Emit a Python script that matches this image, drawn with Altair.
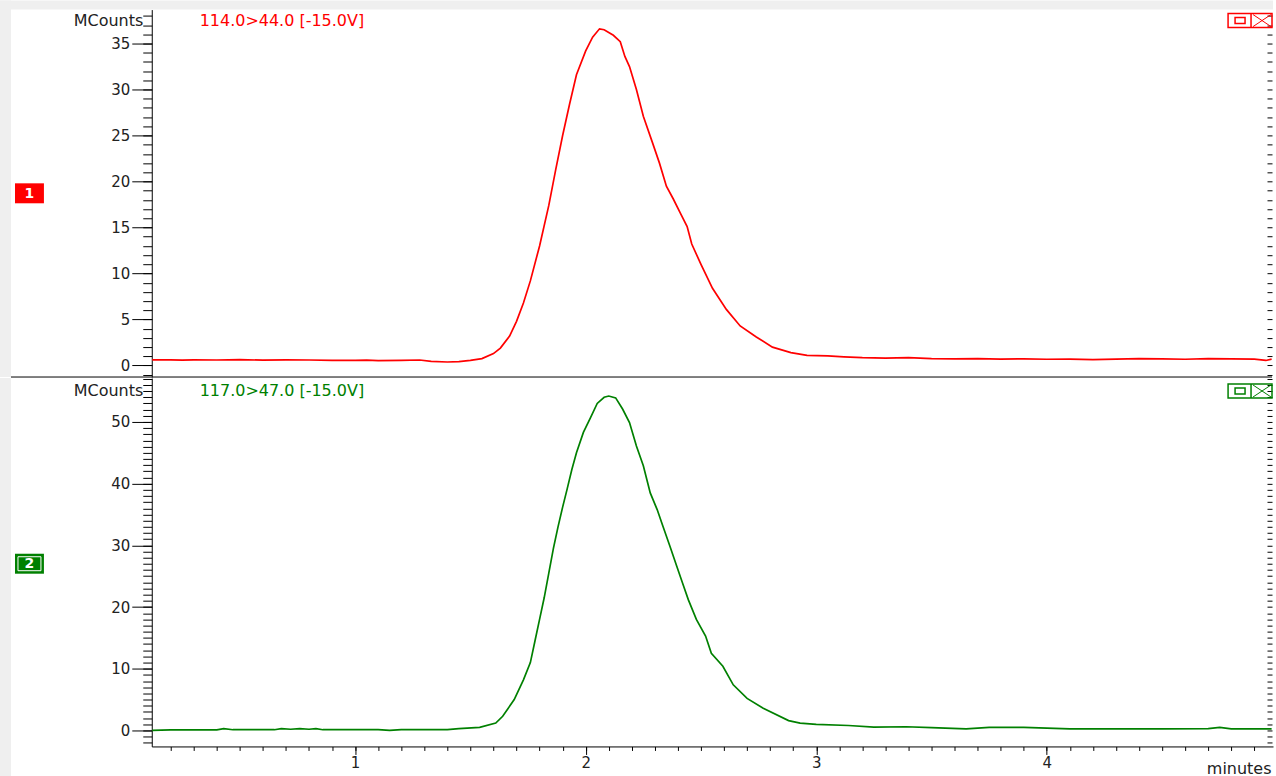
import altair as alt
import pandas as pd

# ---------------- data ----------------
red_t = [0.12, 0.2, 0.25, 0.3, 0.4, 0.5, 0.6, 0.7, 0.8, 0.9, 1.0, 1.05, 1.1, 1.2, 1.28, 1.33,
         1.4, 1.45, 1.5, 1.55, 1.6, 1.63, 1.67, 1.70, 1.73, 1.76, 1.80, 1.84, 1.87, 1.90, 1.93,
         1.96, 2.00, 2.03, 2.06, 2.08, 2.12, 2.15, 2.17, 2.19, 2.22, 2.25, 2.29, 2.32, 2.35,
         2.38, 2.41, 2.44, 2.46, 2.50, 2.55, 2.61, 2.67, 2.74, 2.81, 2.89, 2.96, 3.05, 3.12,
         3.2, 3.3, 3.4, 3.5, 3.6, 3.7, 3.8, 3.9, 4.0, 4.1, 4.2, 4.3, 4.4, 4.5, 4.6, 4.7, 4.8,
         4.9, 4.95, 4.975]
red_v = [0.62, 0.62, 0.58, 0.62, 0.6, 0.65, 0.58, 0.62, 0.6, 0.55, 0.55, 0.58, 0.53, 0.55, 0.6, 0.45,
         0.38, 0.42, 0.55, 0.75, 1.3, 1.9, 3.2, 4.8, 6.8, 9.2, 13.0, 17.4, 21.3, 25.0, 28.4,
         31.6, 34.2, 35.7, 36.6, 36.5, 35.9, 35.2, 33.6, 32.5, 30.0, 27.1, 24.2, 22.0, 19.5,
         18.1, 16.6, 15.1, 13.2, 11.0, 8.4, 6.1, 4.3, 3.1, 2.0, 1.4, 1.1, 1.05, 0.95,
         0.85, 0.8, 0.85, 0.75, 0.72, 0.75, 0.7, 0.72, 0.68, 0.7, 0.65, 0.7, 0.75, 0.72, 0.68, 0.75, 0.72,
         0.7, 0.55, 0.7]

green_t = [0.12, 0.2, 0.4, 0.43, 0.47, 0.65, 0.68, 0.72, 0.76, 0.8, 0.83, 0.86, 1.1, 1.15, 1.2,
           1.4, 1.45, 1.54, 1.61, 1.64, 1.69, 1.73, 1.76, 1.78, 1.80, 1.82, 1.84, 1.86, 1.88,
           1.90, 1.92, 1.94, 1.96, 1.99, 2.02, 2.05, 2.08, 2.10, 2.13, 2.16, 2.19, 2.22, 2.25,
           2.28, 2.31, 2.335, 2.365, 2.395, 2.42, 2.445, 2.48, 2.52, 2.545, 2.595, 2.64, 2.70,
           2.77, 2.88, 2.93, 3.0, 3.14, 3.25, 3.39, 3.5, 3.65, 3.75, 3.9, 4.1, 4.3, 4.5, 4.7,
           4.75, 4.8, 4.975]
green_v = [0.0, 0.1, 0.1, 0.3, 0.12, 0.12, 0.3, 0.2, 0.3, 0.2, 0.3, 0.12, 0.12, 0.0, 0.12,
           0.15, 0.3, 0.5, 1.2, 2.3, 5.0, 8.2, 11.0, 14.5, 18.0, 21.5, 25.5, 29.5, 33.0,
           36.2, 39.2, 42.3, 45.0, 48.3, 50.6, 53.0, 54.0, 54.2, 53.9, 52.1, 49.9, 46.1, 42.9,
           38.5, 35.8, 33.1, 29.9, 26.6, 23.9, 21.2, 18.0, 15.3, 12.5, 10.4, 7.4, 5.2,
           3.6, 1.6, 1.2, 1.0, 0.8, 0.55, 0.6, 0.45, 0.27, 0.5, 0.5, 0.27, 0.27, 0.27, 0.3,
           0.5, 0.27, 0.27]

panel_ids = ["1", "2"]
panel_titles = ["114.0>44.0 [-15.0V]", "117.0>47.0 [-15.0V]"]
y_title = "MCounts"
x_title = "minutes"

y1_major = [0, 5, 10, 15, 20, 25, 30, 35]
y1_minor = list(range(-1, 39))
y2_major = [0, 10, 20, 30, 40, 50]
y2_minor = list(range(-2, 58))
x_major = [1, 2, 3, 4]
x_minor = [round(0.2 + 0.1 * i, 1) for i in range(48)]

# ---------------- layout constants ----------------
W = 1123
H1 = 368
H2 = 369
LEFT = 152
FONT = "DejaVu Sans"
RED = "#ff0000"
GREEN = "#008000"
GRAY = "#efefef"

xscale = alt.Scale(domain=[0.118, 4.981], nice=False, zero=False)
y1scale = alt.Scale(domain=[-1.25, 38.69], nice=False, zero=False)
y2scale = alt.Scale(domain=[-2.59, 57.12], nice=False, zero=False)

one = pd.DataFrame({"a": [0]})


def decor(color, H, top, ident, title, extra_bottom):
    layers = []
    base = alt.Chart(one)
    # gray strips (page background)
    layers.append(base.mark_rect(color=GRAY).encode(
        x=alt.value(-LEFT), x2=alt.value(-LEFT + 11),
        y=alt.value(-9 if top else 0), y2=alt.value(H + extra_bottom)))
    if top:
        layers.append(base.mark_rect(color=GRAY).encode(
            x=alt.value(-LEFT), x2=alt.value(W),
            y=alt.value(-9), y2=alt.value(0)))
    # trace id box
    by = 174 if top else 176
    layers.append(base.mark_rect(color=color).encode(
        x=alt.value(-137), x2=alt.value(-108), y=alt.value(by), y2=alt.value(by + 20)))
    if not top:
        layers.append(base.mark_rect(fillOpacity=0, stroke="white", strokeWidth=1).encode(
            x=alt.value(-134), x2=alt.value(-111), y=alt.value(by + 3), y2=alt.value(by + 17)))
    layers.append(alt.Chart(pd.DataFrame({"lab": [ident]})).mark_text(
        color="white", fontSize=14, fontWeight="bold", font=FONT, align="center",
        baseline="middle").encode(
        x=alt.value(-122.5), y=alt.value(by + 10.5), text="lab:N"))
    # trace title
    ty = 11 if top else 13
    layers.append(alt.Chart(pd.DataFrame({"lab": [title]})).mark_text(
        color=color, fontSize=16, font=FONT, align="left", baseline="middle").encode(
        x=alt.value(48), y=alt.value(ty), text="lab:N"))
    # icons top-right
    iy = 4 if top else 6
    layers.append(base.mark_rect(fillOpacity=0, stroke=color, strokeWidth=1.5).encode(
        x=alt.value(W - 45), x2=alt.value(W - 1), y=alt.value(iy), y2=alt.value(iy + 14)))
    layers.append(base.mark_rule(color=color, strokeWidth=1.5).encode(
        x=alt.value(W - 22), y=alt.value(iy), y2=alt.value(iy + 14)))
    layers.append(base.mark_rect(fillOpacity=0, stroke=color, strokeWidth=1.5).encode(
        x=alt.value(W - 38), x2=alt.value(W - 28), y=alt.value(iy + 4), y2=alt.value(iy + 10)))
    layers.append(base.mark_rule(color=color, strokeWidth=1).encode(
        x=alt.value(W - 20), x2=alt.value(W - 2), y=alt.value(iy + 1), y2=alt.value(iy + 13)))
    layers.append(base.mark_rule(color=color, strokeWidth=1).encode(
        x=alt.value(W - 20), x2=alt.value(W - 2), y=alt.value(iy + 13), y2=alt.value(iy + 1)))
    return layers


def panel(t, v, color, yscale, ymaj, ymin, H, top, ident, title):
    df = pd.DataFrame({"t": t, "v": v})
    if top:
        xmain = alt.X("t:Q", scale=xscale, axis=None)
        xminor = alt.X("t:Q", scale=xscale, axis=None)
    else:
        xmain = alt.X("t:Q", scale=xscale, axis=alt.Axis(
            values=x_major, tickSize=8, labelPadding=1, format="d", title=x_title,
            titleX=W - 2, titleY=30, titleAlign="right", titleBaseline="bottom",
            titleFontSize=16, minExtent=30, maxExtent=30, orient="bottom"))
        xminor = alt.X("t:Q", scale=xscale, axis=alt.Axis(
            values=x_minor, tickSize=4, labels=False, domain=False, title="",
            minExtent=0, maxExtent=30, orient="bottom"))
    line = alt.Chart(df).mark_line(color=color, strokeWidth=1.7).encode(
        x=xmain,
        y=alt.Y("v:Q", scale=yscale, axis=alt.Axis(
            values=ymaj, tickSize=20, labelPadding=2, title=y_title, titleAngle=0,
            titleAlign="right", titleBaseline="middle", titleX=-9, titleY=11 if top else 13,
            titleFontSize=16, minExtent=LEFT, maxExtent=LEFT, orient="left")))
    minor = alt.Chart(df).mark_line(strokeOpacity=0).encode(
        x=xminor,
        y=alt.Y("v:Q", scale=yscale, axis=alt.Axis(
            values=ymin, tickSize=9, labels=False, domain=False, title="",
            minExtent=0, maxExtent=LEFT, orient="left")))
    right = alt.Chart(df).mark_line(strokeOpacity=0).encode(
        x=alt.X("t:Q", scale=xscale, axis=None),
        y=alt.Y("v:Q", scale=yscale, axis=alt.Axis(
            values=ymin, tickSize=5, labels=False, domain=False, title="", offset=-6,
            minExtent=0, maxExtent=0, orient="right")))
    layers = decor(color, H, top, ident, title, 0 if top else 30)
    if top:
        layers.append(alt.Chart(one).mark_rule(color="black", strokeWidth=1).encode(
            x=alt.value(-LEFT + 11), x2=alt.value(W - 1), y=alt.value(H)))
    layers += [minor, right, line]
    return alt.layer(*layers).resolve_axis(x="independent", y="independent").properties(
        width=W, height=H)


top = panel(red_t, red_v, RED, y1scale, y1_major, y1_minor, H1, True, panel_ids[0], panel_titles[0])
bottom = panel(green_t, green_v, GREEN, y2scale, y2_major, y2_minor, H2, False, panel_ids[1], panel_titles[1])

chart = alt.vconcat(top, bottom, spacing=0).properties(
    padding=0, background="white"
).configure_view(stroke=None).configure_axis(
    grid=False, domainColor="black", tickColor="black", domainWidth=1, tickWidth=1,
    labelColor="#222222", labelFont=FONT, labelFontSize=15,
    titleColor="#222222", titleFont=FONT, titleFontSize=15, titleFontWeight="normal"
)

chart.save("out.html", embed_options={"renderer": "svg", "actions": False})
